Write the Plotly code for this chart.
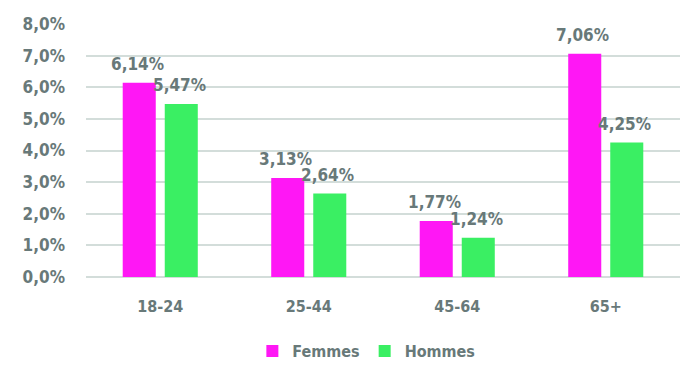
import plotly.graph_objects as go

categories = ["18-24", "25-44", "45-64", "65+"]
femmes = [6.14, 3.13, 1.77, 7.06]
hommes = [5.47, 2.64, 1.24, 4.25]
tick_vals = [0, 1, 2, 3, 4, 5, 6, 7, 8]
tick_text = ["0,0%", "1,0%", "2,0%", "3,0%", "4,0%", "5,0%", "6,0%", "7,0%", "8,0%"]

def fmt(v):
    return f"{v:.2f}".replace(".", ",") + "%"

FONT = "DejaVu Sans Condensed"
GRAY = "#687979"

fig = go.Figure()
series = [("Femmes", femmes, "#FF17F5", -21), ("Hommes", hommes, "#3AEF63", 21)]
for name, vals, col, shift in series:
    fig.add_trace(go.Bar(x=categories, y=vals, name=name, marker_color=col,
                         marker_line_width=0))
    for c, v in zip(categories, vals):
        fig.add_annotation(x=c, y=v, xref="x", yref="y", text=fmt(v),
                           showarrow=False, xshift=shift - 2, yshift=7,
                           yanchor="bottom", xanchor="center",
                           font=dict(family=FONT, size=17, color=GRAY, weight="bold"))

fig.update_layout(
    width=700, height=387,
    margin=dict(l=86, r=20, t=24, b=110, autoexpand=False),
    plot_bgcolor="white", paper_bgcolor="white",
    barmode="group", bargap=0.434, bargroupgap=0.214,
    font=dict(family=FONT, color=GRAY, size=16, weight="bold"),
    showlegend=True,
    legend=dict(orientation="h", x=0.472, xanchor="center", y=-0.293, yanchor="middle",
                font=dict(family=FONT, size=16, color=GRAY, weight="bold"),
                itemwidth=30, traceorder="normal"),
)
fig.update_yaxes(range=[0, 8], tickvals=tick_vals, ticktext=tick_text,
                 showgrid=True, gridcolor="#D3DDDA", gridwidth=2,
                 zeroline=True, zerolinecolor="#D3DDDA", zerolinewidth=2,
                 ticks="", ticklabelstandoff=20, automargin=False,
                 tickfont=dict(family=FONT, size=17, color=GRAY, weight="bold"))
fig.update_xaxes(showgrid=False, ticks="", showline=False, ticklabelstandoff=18,
                 automargin=False,
                 tickfont=dict(family=FONT, size=16, color=GRAY, weight="bold"))

fig.write_html("out.html", config={"displayModeBar": False},
               post_script="document.body.style.margin='0';")
